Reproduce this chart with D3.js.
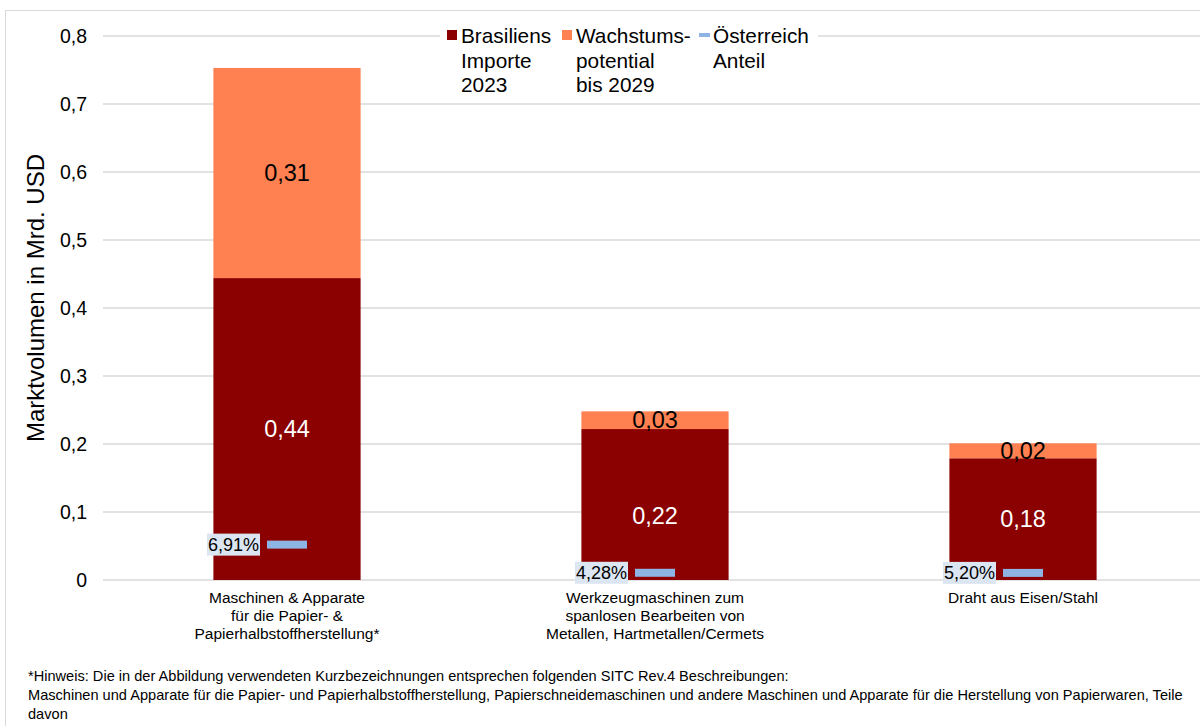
<!DOCTYPE html>
<html>
<head>
<meta charset="utf-8">
<script src="https://cdn.jsdelivr.net/npm/d3@7"></script>
<style>
  html, body { margin: 0; padding: 0; background: #fff; }
  svg { display: block; font-family: "Liberation Sans", Arial, sans-serif; }
</style>
</head>
<body>
<svg id="chart" width="1200" height="726"></svg>
<script>
// Product groups (each label split into lines)
const categories = [
  ["Maschinen & Apparate", "für die Papier- &", "Papierhalbstoffherstellung*"],
  ["Werkzeugmaschinen zum", "spanlosen Bearbeiten von", "Metallen, Hartmetallen/Cermets"],
  ["Draht aus Eisen/Stahl"]
];
// Brazil's imports 2023 (bn USD)
const importe2023 = [0.444, 0.222, 0.179];
// Growth potential until 2029 (bn USD)
const wachstum2029 = [0.309, 0.026, 0.022];
// Austria's share
const anteilOesterreich = [0.0691, 0.0428, 0.0520];
const yTicks = [0, 0.1, 0.2, 0.3, 0.4, 0.5, 0.6, 0.7, 0.8];
const legendItems = [
  { lines: ["Brasiliens", "Importe", "2023"], type: "rect", color: "#8B0000" },
  { lines: ["Wachstums-", "potential", "bis 2029"], type: "rect", color: "#FF8050" },
  { lines: ["Österreich", "Anteil"], type: "line", color: "#8DB4E2" }
];
const footnote = [
  "*Hinweis: Die in der Abbildung verwendeten Kurzbezeichnungen entsprechen folgenden SITC Rev.4 Beschreibungen:",
  "Maschinen und Apparate für die Papier- und Papierhalbstoffherstellung, Papierschneidemaschinen und andere Maschinen und Apparate für die Herstellung von Papierwaren, Teile",
  "davon"
];

const fmt = (v, d) => v.toFixed(d).replace(".", ",");
const svg = d3.select("#chart");

// outer frame
svg.append("rect")
  .attr("x", 5.5).attr("y", 10.5).attr("width", 1210).attr("height", 730)
  .attr("fill", "none").attr("stroke", "#D9D9D9").attr("stroke-width", 1);

const plot = { left: 103, right: 1207, top: 36, bottom: 580 };

const x = d3.scaleBand()
  .domain(d3.range(categories.length))
  .range([plot.left, plot.right])
  .paddingInner(0.6)
  .paddingOuter(0.3);

const y = d3.scaleLinear().domain([0, 0.8]).range([plot.bottom, plot.top]);

// gridlines
svg.append("g")
  .selectAll("line")
  .data(yTicks)
  .join("line")
  .attr("x1", plot.left).attr("x2", 1200)
  .attr("y1", d => y(d)).attr("y2", d => y(d))
  .attr("stroke", "#D9D9D9").attr("stroke-width", 1.5);

// y axis labels
const yAxis = d3.axisLeft(y)
  .tickValues(yTicks)
  .tickSize(0)
  .tickPadding(0)
  .tickFormat(d => d === 0 ? "0" : fmt(d, 1));
svg.append("g")
  .attr("transform", `translate(${plot.left - 16},0)`)
  .call(yAxis)
  .call(g => g.select(".domain").remove())
  .call(g => g.selectAll("text")
    .attr("font-size", 19.5)
    .attr("fill", "#000")
    .attr("font-family", "Liberation Sans, Arial, sans-serif"));

// y axis title
svg.append("text")
  .attr("transform", "translate(44,298) rotate(-90)")
  .attr("text-anchor", "middle")
  .attr("font-size", 24)
  .attr("fill", "#000")
  .text("Marktvolumen in Mrd. USD");

// stacked bars
const bars = svg.append("g");
// the middle import label sits slightly lower, clear of the share marker
const importLabelShift = [0, 11, 0];
categories.forEach((c, i) => {
  const bx = x(i), bw = x.bandwidth();
  const imp = importe2023[i], gr = wachstum2029[i];
  bars.append("rect")
    .attr("x", bx).attr("y", y(imp))
    .attr("width", bw).attr("height", y(0) - y(imp))
    .attr("fill", "#8B0000");
  bars.append("rect")
    .attr("x", bx).attr("y", y(imp + gr))
    .attr("width", bw).attr("height", y(imp) - y(imp + gr))
    .attr("fill", "#FF8050");

  const cx = bx + bw / 2;
  bars.append("text")
    .attr("x", cx).attr("y", y(imp / 2) + importLabelShift[i]).attr("dy", "0.35em")
    .attr("text-anchor", "middle").attr("font-size", 23.5)
    .attr("fill", "#fff")
    .text(fmt(imp, 2));
  bars.append("text")
    .attr("x", cx).attr("y", y(imp + gr / 2)).attr("dy", "0.35em")
    .attr("text-anchor", "middle").attr("font-size", 23.5)
    .attr("fill", "#000")
    .text(fmt(gr, 2));
});

// Austria's share marker: share of the total market volume
const share = svg.append("g");
categories.forEach((c, i) => {
  const cx = x(i) + x.bandwidth() / 2;
  const total = importe2023[i] + wachstum2029[i];
  const my = y(total * anteilOesterreich[i]);
  share.append("rect")
    .attr("x", cx - 20).attr("y", my - 4)
    .attr("width", 40).attr("height", 8)
    .attr("fill", "#8DB4E2");
  const label = fmt(anteilOesterreich[i] * 100, 2) + "%";
  const t = share.append("text")
    .attr("x", cx - 28).attr("y", my).attr("dy", "0.36em")
    .attr("text-anchor", "end").attr("font-size", 18)
    .attr("fill", "#000")
    .text(label);
  const bb = t.node().getBBox();
  share.insert("rect", "text")
    .attr("x", bb.x - 1).attr("y", my - 11)
    .attr("width", bb.width + 2).attr("height", 22)
    .attr("fill", "#DCE6F2");
});
share.selectAll("text").raise();

// category labels
const cat = svg.append("g");
categories.forEach((lines, i) => {
  const cx = x(i) + x.bandwidth() / 2;
  const t = cat.append("text")
    .attr("text-anchor", "middle").attr("font-size", 15.5).attr("fill", "#000");
  lines.forEach((ln, k) => {
    t.append("tspan").attr("x", cx).attr("y", 603 + k * 18).text(ln);
  });
});

// legend
const legend = svg.append("g");
legend.append("rect")
  .attr("x", 440).attr("y", 24).attr("width", 378).attr("height", 72)
  .attr("fill", "#fff");
const legendX = [447, 562, 699];
legendItems.forEach((it, i) => {
  const lx = legendX[i];
  if (it.type === "rect") {
    legend.append("rect")
      .attr("x", lx).attr("y", 30).attr("width", 10).attr("height", 10)
      .attr("fill", it.color);
  } else {
    legend.append("rect")
      .attr("x", lx).attr("y", 33).attr("width", 11).attr("height", 4)
      .attr("fill", it.color);
  }
  const t = legend.append("text").attr("font-size", 20.8).attr("fill", "#000");
  it.lines.forEach((ln, k) => {
    t.append("tspan").attr("x", lx + 14).attr("y", 43 + k * 24.5).text(ln);
  });
});

// footnote, condensed horizontally to the body width
const fn = svg.append("g")
  .attr("font-family", "Liberation Sans, Arial, sans-serif")
  .attr("font-size", 14).attr("fill", "#000");
const fnLines = footnote.map((ln, k) =>
  fn.append("text").attr("x", 0).attr("y", 681 + k * 19).text(ln));
const widest = fnLines[1].node().getComputedTextLength();
const k = 1155 / widest;
fn.attr("transform", `translate(28,0) scale(${k},1)`);
</script>
</body>
</html>
